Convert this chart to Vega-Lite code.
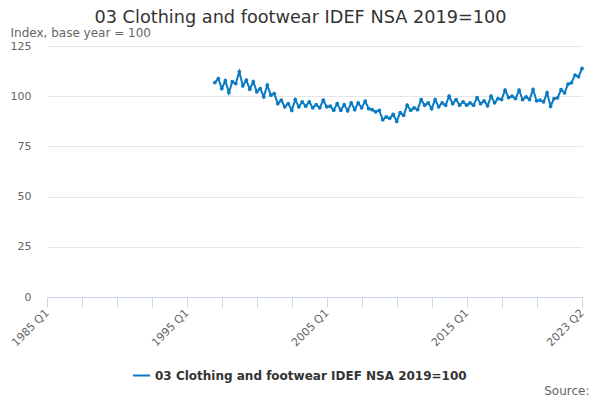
{
  "$schema": "https://vega.github.io/schema/vega-lite/v6.json",
  "width": 535,
  "height": 251,
  "autosize": {"type": "none"},
  "padding": {"left": 47, "top": 46, "right": 18, "bottom": 103},
  "background": "white",
  "title": {
    "text": "03 Clothing and footwear IDEF NSA 2019=100",
    "anchor": "middle",
    "dx": -14,
    "dy": 1,
    "offset": 0,
    "font": "DejaVu Sans",
    "fontSize": 17.7,
    "fontWeight": "normal",
    "color": "#333333"
  },
  "config": {
    "view": {"stroke": null},
    "font": "DejaVu Sans"
  },
  "data": {
    "values": [
      {"q": "1997-01-01T00:00:00", "v": 106.8}, {"q": "1997-04-01T00:00:00", "v": 108.8}, {"q": "1997-07-01T00:00:00", "v": 103.8}, {"q": "1997-10-01T00:00:00", "v": 107.7},
      {"q": "1998-01-01T00:00:00", "v": 101.8}, {"q": "1998-04-01T00:00:00", "v": 107.2}, {"q": "1998-07-01T00:00:00", "v": 106.3}, {"q": "1998-10-01T00:00:00", "v": 112.2},
      {"q": "1999-01-01T00:00:00", "v": 105.2}, {"q": "1999-04-01T00:00:00", "v": 108.0}, {"q": "1999-07-01T00:00:00", "v": 103.5}, {"q": "1999-10-01T00:00:00", "v": 107.2},
      {"q": "2000-01-01T00:00:00", "v": 102.2}, {"q": "2000-04-01T00:00:00", "v": 103.8}, {"q": "2000-07-01T00:00:00", "v": 99.7}, {"q": "2000-10-01T00:00:00", "v": 105.5},
      {"q": "2001-01-01T00:00:00", "v": 100.5}, {"q": "2001-04-01T00:00:00", "v": 101.3}, {"q": "2001-07-01T00:00:00", "v": 96.3}, {"q": "2001-10-01T00:00:00", "v": 98.0},
      {"q": "2002-01-01T00:00:00", "v": 94.7}, {"q": "2002-04-01T00:00:00", "v": 96.3}, {"q": "2002-07-01T00:00:00", "v": 93.0}, {"q": "2002-10-01T00:00:00", "v": 98.3},
      {"q": "2003-01-01T00:00:00", "v": 94.7}, {"q": "2003-04-01T00:00:00", "v": 97.2}, {"q": "2003-07-01T00:00:00", "v": 95.0}, {"q": "2003-10-01T00:00:00", "v": 97.2},
      {"q": "2004-01-01T00:00:00", "v": 94.2}, {"q": "2004-04-01T00:00:00", "v": 95.8}, {"q": "2004-07-01T00:00:00", "v": 94.2}, {"q": "2004-10-01T00:00:00", "v": 98.0},
      {"q": "2005-01-01T00:00:00", "v": 94.7}, {"q": "2005-04-01T00:00:00", "v": 95.0}, {"q": "2005-07-01T00:00:00", "v": 93.0}, {"q": "2005-10-01T00:00:00", "v": 96.3},
      {"q": "2006-01-01T00:00:00", "v": 93.0}, {"q": "2006-04-01T00:00:00", "v": 95.8}, {"q": "2006-07-01T00:00:00", "v": 92.7}, {"q": "2006-10-01T00:00:00", "v": 96.7},
      {"q": "2007-01-01T00:00:00", "v": 93.3}, {"q": "2007-04-01T00:00:00", "v": 96.7}, {"q": "2007-07-01T00:00:00", "v": 94.2}, {"q": "2007-10-01T00:00:00", "v": 97.5},
      {"q": "2008-01-01T00:00:00", "v": 93.8}, {"q": "2008-04-01T00:00:00", "v": 93.3}, {"q": "2008-07-01T00:00:00", "v": 92.2}, {"q": "2008-10-01T00:00:00", "v": 93.0},
      {"q": "2009-01-01T00:00:00", "v": 88.3}, {"q": "2009-04-01T00:00:00", "v": 89.7}, {"q": "2009-07-01T00:00:00", "v": 89.0}, {"q": "2009-10-01T00:00:00", "v": 91.0},
      {"q": "2010-01-01T00:00:00", "v": 87.5}, {"q": "2010-04-01T00:00:00", "v": 91.8}, {"q": "2010-07-01T00:00:00", "v": 90.5}, {"q": "2010-10-01T00:00:00", "v": 95.5},
      {"q": "2011-01-01T00:00:00", "v": 93.0}, {"q": "2011-04-01T00:00:00", "v": 94.2}, {"q": "2011-07-01T00:00:00", "v": 93.3}, {"q": "2011-10-01T00:00:00", "v": 98.3},
      {"q": "2012-01-01T00:00:00", "v": 95.5}, {"q": "2012-04-01T00:00:00", "v": 96.7}, {"q": "2012-07-01T00:00:00", "v": 93.8}, {"q": "2012-10-01T00:00:00", "v": 98.3},
      {"q": "2013-01-01T00:00:00", "v": 94.7}, {"q": "2013-04-01T00:00:00", "v": 96.7}, {"q": "2013-07-01T00:00:00", "v": 95.5}, {"q": "2013-10-01T00:00:00", "v": 100.0},
      {"q": "2014-01-01T00:00:00", "v": 96.3}, {"q": "2014-04-01T00:00:00", "v": 98.3}, {"q": "2014-07-01T00:00:00", "v": 95.5}, {"q": "2014-10-01T00:00:00", "v": 97.2},
      {"q": "2015-01-01T00:00:00", "v": 95.5}, {"q": "2015-04-01T00:00:00", "v": 96.7}, {"q": "2015-07-01T00:00:00", "v": 95.5}, {"q": "2015-10-01T00:00:00", "v": 99.3},
      {"q": "2016-01-01T00:00:00", "v": 96.3}, {"q": "2016-04-01T00:00:00", "v": 97.7}, {"q": "2016-07-01T00:00:00", "v": 95.2}, {"q": "2016-10-01T00:00:00", "v": 100.0},
      {"q": "2017-01-01T00:00:00", "v": 96.7}, {"q": "2017-04-01T00:00:00", "v": 98.8}, {"q": "2017-07-01T00:00:00", "v": 98.3}, {"q": "2017-10-01T00:00:00", "v": 103.0},
      {"q": "2018-01-01T00:00:00", "v": 99.3}, {"q": "2018-04-01T00:00:00", "v": 100.0}, {"q": "2018-07-01T00:00:00", "v": 98.8}, {"q": "2018-10-01T00:00:00", "v": 103.0},
      {"q": "2019-01-01T00:00:00", "v": 98.3}, {"q": "2019-04-01T00:00:00", "v": 99.7}, {"q": "2019-07-01T00:00:00", "v": 98.3}, {"q": "2019-10-01T00:00:00", "v": 103.3},
      {"q": "2020-01-01T00:00:00", "v": 97.7}, {"q": "2020-04-01T00:00:00", "v": 98.0}, {"q": "2020-07-01T00:00:00", "v": 97.2}, {"q": "2020-10-01T00:00:00", "v": 101.7},
      {"q": "2021-01-01T00:00:00", "v": 95.0}, {"q": "2021-04-01T00:00:00", "v": 98.8}, {"q": "2021-07-01T00:00:00", "v": 99.2}, {"q": "2021-10-01T00:00:00", "v": 103.3},
      {"q": "2022-01-01T00:00:00", "v": 101.7}, {"q": "2022-04-01T00:00:00", "v": 106.0}, {"q": "2022-07-01T00:00:00", "v": 106.7}, {"q": "2022-10-01T00:00:00", "v": 110.5},
      {"q": "2023-01-01T00:00:00", "v": 109.7}, {"q": "2023-04-01T00:00:00", "v": 113.8}
    ]
  },
  "mark": {
    "type": "line",
    "strokeWidth": 2,
    "point": {"filled": true, "size": 14}
  },
  "encoding": {
    "x": {
      "field": "q",
      "type": "temporal",
      "scale": {
        "domain": [{"year": 1985, "month": 1, "date": 1}, {"year": 2023, "month": 4, "date": 1}],
        "nice": false
      },
      "axis": {
        "title": "Source:",
        "titleX": 542,
        "titleY": 97,
        "titleAlign": "right",
        "titleBaseline": "alphabetic",
        "titleFont": "DejaVu Sans",
        "titleFontSize": 12,
        "titleFontWeight": "normal",
        "titleColor": "#666666",
        "values": [
          {"year": 1985, "month": 1, "date": 1}, {"year": 1987, "month": 7, "date": 1},
          {"year": 1990, "month": 1, "date": 1}, {"year": 1992, "month": 7, "date": 1},
          {"year": 1995, "month": 1, "date": 1}, {"year": 1997, "month": 7, "date": 1},
          {"year": 2000, "month": 1, "date": 1}, {"year": 2002, "month": 7, "date": 1},
          {"year": 2005, "month": 1, "date": 1}, {"year": 2007, "month": 7, "date": 1},
          {"year": 2010, "month": 1, "date": 1}, {"year": 2012, "month": 7, "date": 1},
          {"year": 2015, "month": 1, "date": 1}, {"year": 2017, "month": 7, "date": 1},
          {"year": 2020, "month": 1, "date": 1}, {"year": 2023, "month": 4, "date": 1}
        ],
        "labelExpr": "(month(datum.value) == 0 && (year(datum.value) - 1985) % 10 == 0) || year(datum.value) == 2023 ? timeFormat(datum.value, '%Y Q%q') : ''",
        "labelAngle": -45,
        "labelAlign": "right",
        "labelBaseline": "middle",
        "labelFont": "DejaVu Sans",
        "labelFontSize": 11,
        "labelColor": "#666666",
        "labelPadding": 4,
        "labelOverlap": false,
        "labelFlush": false,
        "domainColor": "#ccd6eb",
        "domainWidth": 1,
        "tickColor": "#ccd6eb",
        "tickSize": 10,
        "tickWidth": 1,
        "grid": false
      }
    },
    "y": {
      "field": "v",
      "type": "quantitative",
      "scale": {"domain": [0, 125], "nice": false, "zero": true},
      "axis": {
        "title": "Index, base year = 100",
        "titleAngle": 0,
        "titleX": -37,
        "titleY": -10,
        "titleAlign": "left",
        "titleBaseline": "alphabetic",
        "titleFont": "DejaVu Sans",
        "titleFontSize": 12,
        "titleFontWeight": "normal",
        "titleColor": "#666666",
        "values": [0, 25, 50, 75, 100, 125],
        "labelFont": "DejaVu Sans",
        "labelFontSize": 11,
        "labelColor": "#666666",
        "labelPadding": 16,
        "tickSize": 0,
        "ticks": false,
        "domain": false,
        "grid": true,
        "gridColor": "#e6e6e6",
        "gridWidth": 1
      }
    },
    "color": {
      "datum": "03 Clothing and footwear IDEF NSA 2019=100",
      "type": "nominal",
      "scale": {"range": ["#0a7bc2"]},
      "legend": {
        "title": null,
        "orient": "none",
        "legendX": 85,
        "legendY": 320,
        "padding": 0,
        "symbolType": "stroke",
        "symbolSize": 289,
        "symbolStrokeWidth": 2,
        "labelFont": "DejaVu Sans",
        "labelFontSize": 12,
        "labelFontWeight": "bold",
        "labelColor": "#333333",
        "labelOffset": 4,
        "labelLimit": 0
      }
    }
  }
}
